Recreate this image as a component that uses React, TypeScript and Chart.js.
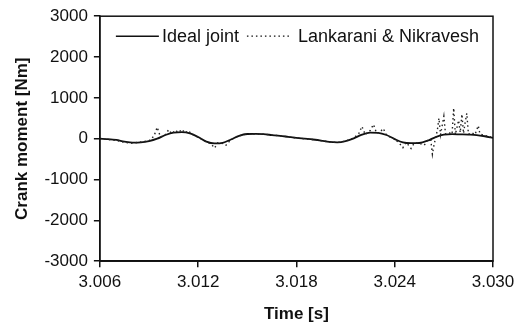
import React, { useEffect, useRef } from "react";
import { Chart, registerables } from "chart.js";

Chart.register(...registerables);

const xTicks = [3.006, 3.012, 3.018, 3.024, 3.03];
const yTicks = [-3000, -2000, -1000, 0, 1000, 2000, 3000];

const idealTime = [
  3.006, 3.0065, 3.007, 3.0075, 3.008, 3.0085, 3.009, 3.0095, 3.01, 3.0105,
  3.011, 3.0115, 3.012, 3.0125, 3.013, 3.0135, 3.014, 3.0145, 3.015, 3.0155,
  3.016, 3.0165, 3.017, 3.0175, 3.018, 3.0185, 3.019, 3.0195, 3.02, 3.0205,
  3.021, 3.0215, 3.022, 3.0225, 3.023, 3.0235, 3.024, 3.0245, 3.025, 3.0255,
  3.026, 3.0265, 3.027, 3.0275, 3.028, 3.0285, 3.029, 3.0295, 3.03,
];
const idealMoment = [
  0, -10, -30, -70, -95, -90, -60, 0, 90, 150,
  160, 130, 40, -70, -115, -100, -20, 70, 115, 120,
  110, 90, 70, 45, 20, 0, -20, -45, -80, -90,
  -60, 10, 100, 150, 145, 90, -10, -90, -110, -105,
  -50, 40, 100, 110, 105, 100, 90, 60, 20,
];

const lnTime = [
  3.006, 3.007, 3.0075, 3.008, 3.0085, 3.009, 3.0093, 3.0095, 3.0097, 3.01,
  3.0102, 3.0104, 3.0106, 3.0108, 3.011, 3.0112, 3.0114, 3.0116, 3.012, 3.0125,
  3.0128, 3.013, 3.0132, 3.0135, 3.0137, 3.014, 3.0145, 3.015, 3.016, 3.017,
  3.018, 3.019, 3.02, 3.0205, 3.021, 3.0215, 3.0218, 3.022, 3.0222, 3.0225,
  3.0227, 3.0229, 3.0231, 3.0233, 3.0235, 3.024, 3.0243, 3.0245, 3.0247, 3.025,
  3.0252, 3.0255, 3.0258, 3.026, 3.0262, 3.0263, 3.0264, 3.0265, 3.0266, 3.0267,
  3.0268, 3.027, 3.0271, 3.0273, 3.0275, 3.0276, 3.0277, 3.0279, 3.028, 3.0281,
  3.0282, 3.0283, 3.0284, 3.0285, 3.0287, 3.0289, 3.0291, 3.0292, 3.0295, 3.0298,
  3.03,
];
const lnMoment = [
  0, -40, -90, -110, -80, -50, 60, 280, 40, 100,
  220, 120, 210, 150, 230, 140, 200, 110, 40, -80,
  -130, -230, -100, -120, -160, -20, 70, 120, 110, 70,
  20, -20, -80, -95, -60, 20, 120, 300, 100, 200,
  350, 130, 160, 250, 80, -10, -120, -220, -90, -240,
  -100, -110, -160, -40, -20, -380, -150, 30, 200, 500,
  100, 550, 120, 150, 110, 750, 100, 450, 150, 600,
  130, 400, 620, 110, 150, 100, 320, 120, 70, 60,
  -20,
];

const FONT = "'Liberation Sans', Arial, sans-serif";

const frameAndLegend = {
  id: "frameAndLegend",
  afterDraw(chart: any) {
    const { ctx, chartArea } = chart;
    const { left, right, top, bottom } = chartArea;
    ctx.save();
    ctx.strokeStyle = "#111";
    ctx.lineWidth = 1.5;
    ctx.setLineDash([]);
    ctx.strokeRect(left, top, right - left, bottom - top);
    // legend
    const ly = top + 20;
    const x0 = left + 16;
    ctx.lineWidth = 1.6;
    ctx.beginPath();
    ctx.moveTo(x0, ly);
    ctx.lineTo(x0 + 43, ly);
    ctx.stroke();
    ctx.font = `18px ${FONT}`;
    ctx.fillStyle = "#111";
    ctx.textBaseline = "middle";
    ctx.textAlign = "left";
    ctx.fillText("Ideal joint", x0 + 46, ly + 1);
    const x1 = x0 + 46 + ctx.measureText("Ideal joint").width + 8;
    ctx.setLineDash([1.5, 3]);
    ctx.lineWidth = 1.3;
    ctx.beginPath();
    ctx.moveTo(x1, ly);
    ctx.lineTo(x1 + 44, ly);
    ctx.stroke();
    ctx.setLineDash([]);
    ctx.fillText("Lankarani & Nikravesh", x1 + 51, ly + 1);
    ctx.restore();
  },
};

export default function App() {
  const ref = useRef<HTMLCanvasElement>(null);
  useEffect(() => {
    if (!ref.current) return;
    const chart = new Chart(ref.current, {
      type: "line",
      data: {
        datasets: [
          {
            label: "Lankarani & Nikravesh",
            data: lnTime.map((t, i) => ({ x: t, y: lnMoment[i] })),
            borderColor: "#222",
            borderWidth: 1.4,
            borderDash: [1.5, 3],
            pointRadius: 0,
            tension: 0,
            fill: false,
          },
          {
            label: "Ideal joint",
            data: idealTime.map((t, i) => ({ x: t, y: idealMoment[i] })),
            borderColor: "#111",
            borderWidth: 1.8,
            pointRadius: 0,
            tension: 0.4,
            cubicInterpolationMode: "monotone",
            fill: false,
          },
        ],
      },
      options: {
        animation: false,
        responsive: false,
        layout: { padding: { top: 10, right: 28, left: 12, bottom: 0 } },
        plugins: { legend: { display: false }, tooltip: { enabled: false } },
        scales: {
          x: {
            type: "linear",
            min: 3.006,
            max: 3.03,
            afterBuildTicks: (s: any) => {
              s.ticks = xTicks.map((v) => ({ value: v }));
            },
            ticks: {
              color: "#111",
              font: { family: FONT, size: 17 },
              callback: (v: any) => Number(v).toFixed(3),
              padding: 5,
              maxRotation: 0,
              autoSkip: false,
            },
            grid: { drawOnChartArea: false, drawTicks: true, tickLength: 6, color: "#111", lineWidth: 1.5 },
            border: { display: true, color: "#111", width: 1.5 },
            title: {
              display: true,
              text: "Time [s]",
              color: "#111",
              font: { family: FONT, size: 17, weight: "bold" },
              padding: { top: 7, bottom: 0 },
            },
          },
          y: {
            type: "linear",
            min: -3000,
            max: 3000,
            afterBuildTicks: (s: any) => {
              s.ticks = yTicks.map((v) => ({ value: v }));
            },
            ticks: {
              color: "#111",
              font: { family: FONT, size: 17 },
              callback: (v: any) => String(v),
              padding: 6,
            },
            grid: { drawOnChartArea: false, drawTicks: true, tickLength: 6, color: "#111", lineWidth: 1.5 },
            border: { display: true, color: "#111", width: 1.5 },
            title: {
              display: true,
              text: "Crank moment [Nm]",
              color: "#111",
              font: { family: FONT, size: 17, weight: "bold" },
              padding: { top: 0, bottom: 6 },
            },
          },
        },
      },
      plugins: [frameAndLegend],
    } as any);
    return () => chart.destroy();
  }, []);
  return (
    <div style={{ position: "fixed", left: 0, top: 0, width: 521, height: 325, background: "#fff" }}>
      <canvas ref={ref} width={521} height={325} style={{ display: "block" }} />
    </div>
  );
}
